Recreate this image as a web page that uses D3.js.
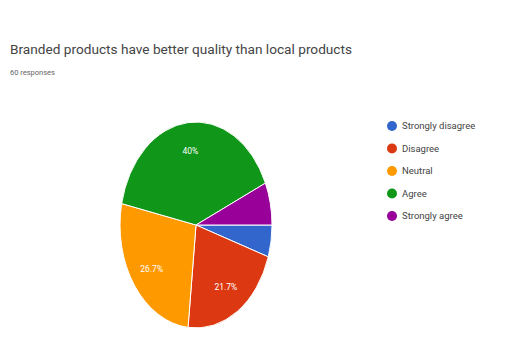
<!DOCTYPE html>
<html><head><meta charset="utf-8">
<script src="https://cdn.jsdelivr.net/npm/d3@7"></script>
<style>body{margin:0;background:#fff;}svg{display:block;font-family:Roboto,Arial,sans-serif;}</style>
</head><body>
<svg id="c" width="522" height="339"></svg>
<script>
const title = "Branded products have better quality than local products";
const subtitle = "60 responses";
const categories = ["Strongly disagree","Disagree","Neutral","Agree","Strongly agree"];
const counts = [3, 13, 16, 24, 4];
const colors = ["#3366cc","#dc3912","#ff9900","#109618","#990099"];

const svg = d3.select("#c");
svg.append("text").attr("x",10).attr("y",54).attr("font-size",12.5).attr("fill","#444")
  .attr("textLength",342).attr("lengthAdjust","spacingAndGlyphs").text(title);
svg.append("text").attr("x",10).attr("y",75).attr("font-size",7.5).attr("fill","#666").text(subtitle);

const total = d3.sum(counts);
const pie = d3.pie().sort(null).startAngle(Math.PI/2).endAngle(Math.PI/2 + 2*Math.PI);
const arcs = pie(counts);
const R = 100;
const arc = d3.arc().innerRadius(0).outerRadius(R);
const labelArc = d3.arc().innerRadius(R*0.72).outerRadius(R*0.72);
const cx = 196, cy = 225, sx = 0.76, sy = 1.03;

const g = svg.append("g").attr("transform",`translate(${cx},${cy}) scale(${sx},${sy})`);
g.selectAll("path").data(arcs).join("path")
  .attr("d",arc).attr("fill",(d,i)=>colors[i])
  .attr("stroke","#fff").attr("stroke-width",1).attr("vector-effect","non-scaling-stroke");

const lg = svg.append("g").attr("transform",`translate(${cx},${cy})`);
lg.selectAll("text").data(arcs.filter(d=>d.value/total>0.1)).join("text")
  .attr("x",d=>labelArc.centroid(d)[0]*sx).attr("y",d=>labelArc.centroid(d)[1]*sy)
  .attr("text-anchor","middle").attr("dy","0.35em").attr("font-size",8.5).attr("fill","#fff")
  .text(d=>{const p=d.value/total*100; return (Math.round(p*10)/10)+"%";});

const leg = svg.append("g");
const ly = d3.scalePoint().domain(categories).range([126,216]);
categories.forEach((c,i)=>{
  leg.append("circle").attr("cx",392).attr("cy",ly(c)).attr("r",5).attr("fill",colors[i]);
  leg.append("text").attr("x",402).attr("y",ly(c)).attr("dy","0.35em").attr("font-size",9.5).attr("fill","#444").text(c);
});
</script>
</body></html>
